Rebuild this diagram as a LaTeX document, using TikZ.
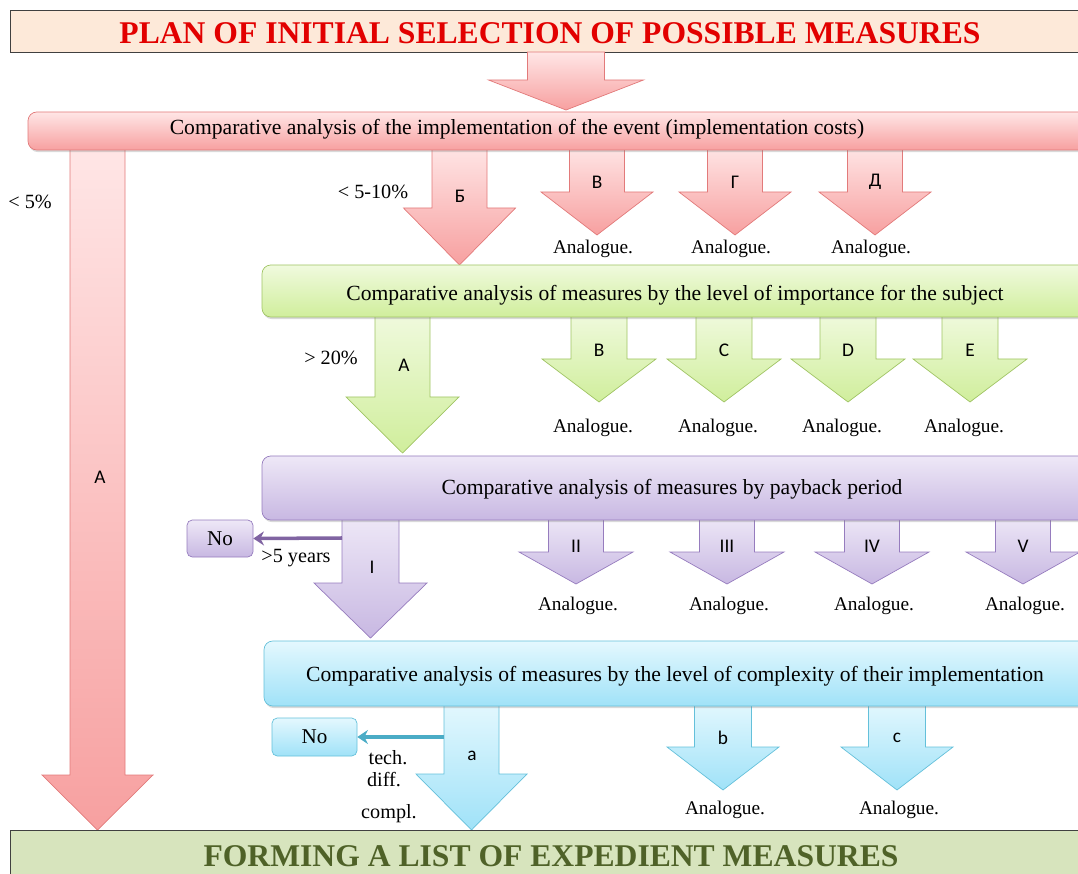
\documentclass[tikz,border=0pt]{standalone}
\usepackage{fontspec}
\setmainfont{Liberation Serif}
\newfontfamily\lblfont{Carlito}
\definecolor{titlefill}{RGB}{253,233,217}
\definecolor{titlered}{RGB}{226,0,0}
\definecolor{listfill}{RGB}{215,228,189}
\definecolor{listtext}{RGB}{79,98,40}
\definecolor{redtop}{RGB}{255,230,230}
\definecolor{redbot}{RGB}{247,160,160}
\definecolor{redline}{RGB}{226,122,122}
\definecolor{greentop}{RGB}{240,250,222}
\definecolor{greenbot}{RGB}{208,238,156}
\definecolor{greenline}{RGB}{160,196,100}
\definecolor{purptop}{RGB}{238,232,247}
\definecolor{purpbot}{RGB}{200,184,226}
\definecolor{purpline}{RGB}{150,124,190}
\definecolor{purparrow}{RGB}{128,100,162}
\definecolor{bluetop}{RGB}{228,248,254}
\definecolor{bluebot}{RGB}{160,226,248}
\definecolor{blueline}{RGB}{100,192,218}
\definecolor{bluearrow}{RGB}{75,172,198}
\usetikzlibrary{arrows.meta,fit,shadows}
% block arrow: style, x, top, head start, tip, half shaft, half head
\newcommand{\blockarrow}[7]{%
  \path[#1] ({#2-#6},#3) -- ({#2+#6},#3) -- ({#2+#6},#4) -- ({#2+#7},#4)
    -- (#2,#5) -- ({#2-#7},#4) -- ({#2-#6},#4) -- cycle;}

\begin{document}
\begin{tikzpicture}[x=0.02cm,y=-0.02cm,
  stagebox/.style={rounded corners=5pt,inner sep=0pt,
    drop shadow={shadow xshift=0.6pt,shadow yshift=-1.2pt,opacity=0.3}},
  nobox/.style={rounded corners=3pt,inner sep=0pt,font=\fontsize{12}{14}\selectfont},
  redfill/.style={top color=redtop,bottom color=redbot,draw=redline},
  greenfill/.style={top color=greentop,bottom color=greenbot,draw=greenline},
  purpfill/.style={top color=purptop,bottom color=purpbot,draw=purpline},
  bluefill/.style={top color=bluetop,bottom color=bluebot,draw=blueline},
  boxtext/.style={font=\fontsize{12.3}{14}\selectfont},
  albl/.style={font=\lblfont\fontsize{11}{12}\selectfont},
  ana/.style={font=\fontsize{11}{13}\selectfont},
  cond/.style={font=\fontsize{11.5}{13}\selectfont,align=center},
  noarr/.style={line width=2pt,-{Stealth[length=6pt,width=8pt]}}
]
  \useasboundingbox (0,0) rectangle (1078,874);
  \clip (0,0) rectangle (1078,874);

  % Title
  \node[draw=black!75,fill=titlefill,inner sep=0pt,fit={(10,10) (1100,52)}] (plan) {};
  \node[font=\bfseries\fontsize{18}{21}\selectfont,text=titlered] (plantxt) at (550,33)
    {PLAN OF INITIAL SELECTION OF POSSIBLE MEASURES};
  \blockarrow{redfill}{566}{52}{80}{110}{38.5}{77.5}

  % Level 1: implementation costs
  \blockarrow{redfill}{97.5}{145}{775}{830}{27.5}{55.5}
  \node[albl] (lA) at (100,477) {A};
  \node[cond] (lt5) at (30,202) {< 5\%};
  \blockarrow{redfill}{459.5}{145}{208}{265}{27.5}{56}
  \node[albl] (lB6) at (460,196) {Б};
  \node[cond] (lt510) at (373,192) {< 5-10\%};
  \foreach \x/\l/\n in {597/В/v,735/Г/g,875/Д/d}{
    \blockarrow{redfill}{\x}{145}{192}{235}{27.5}{56}
    \node[albl] (r\n) at (\x,182) {\l};
    \node[ana] (ra\n) at (\x-4,249) {Analogue.};
  }
  \node[stagebox,redfill,fit={(28,112) (1100,150)}] (costs) {};
  \node[boxtext] (coststxt) at (517,129)
    {Comparative analysis of the implementation of the event (implementation costs)};

  % Level 2: importance
  \blockarrow{greenfill}{402.5}{312}{397}{453}{27.5}{56.5}
  \node[albl] (gA) at (404,365) {A};
  \node[cond] (gt20) at (331,358) {> 20\%};
  \foreach \x/\l in {599/B,724/C,848/D,970/E}{
    \blockarrow{greenfill}{\x}{312}{359}{402}{28}{57}
    \node[albl] (g\l) at (\x,350) {\l};
    \node[ana] (ga\l) at (\x-6,428) {Analogue.};
  }
  \node[stagebox,greenfill,fit={(262,265) (1100,317)}] (importance) {};
  \node[boxtext] (importancetxt) at (675,295)
    {Comparative analysis of measures by the level of importance for the subject};

  % Level 3: payback period
  \blockarrow{purpfill}{370.5}{515}{583}{638}{28.5}{56.5}
  \node[albl] (pI) at (372,567) {I};
  \foreach \x/\l in {576/II,727/III,872/IV,1023/V}{
    \blockarrow{purpfill}{\x}{515}{552}{584}{27.5}{57}
    \node[albl] (p\l) at (\x,546) {\l};
    \node[ana] (pa\l) at (\x+2,606) {Analogue.};
  }
  \node[stagebox,purpfill,fit={(262,456) (1100,520)}] (payback) {};
  \node[boxtext] (paybacktxt) at (672,489)
    {Comparative analysis of measures by payback period};
  \node[nobox,purpfill,fit={(187,520) (253,557)}] (nop) {};
  \node[nobox] at (nop.center) {No};
  \coordinate (pshaft) at (342,538);
  \draw[noarr,purparrow] (pshaft) -- (nop.east);
  \node[cond] (gt5) at (296,558) {>5 years};

  % Level 4: complexity
  \blockarrow{bluefill}{471.5}{701}{774}{830}{27.5}{55.5}
  \node[albl] (ba) at (472,756) {a};
  \foreach \x/\l in {723/b,897/c}{
    \blockarrow{bluefill}{\x}{701}{747}{790}{28.5}{56}
    \node[albl] (b\l) at (\x,738) {\l};
    \node[ana] (ba\l) at (\x+2,810) {Analogue.};
  }
  \node[stagebox,bluefill,fit={(264,641) (1100,706)}] (complexity) {};
  \node[boxtext] (complexitytxt) at (675,676)
    {Comparative analysis of measures by the level of complexity of their implementation};
  \node[nobox,bluefill,fit={(272,718) (357,756)}] (nob) {};
  \node[nobox] at (nob.center) {No};
  \coordinate (bshaft) at (444,737);
  \draw[noarr,bluearrow] (bshaft) -- (nob.east);
  \node[cond] (tech) at (388,758) {tech.};
  \node[cond] (diff) at (384,780) {diff.};
  \node[cond] (compl) at (389,814) {compl.};

  % Result
  \node[draw=black!75,fill=listfill,inner sep=0pt,fit={(10,830) (1100,890)}] (list) {};
  \node[font=\bfseries\fontsize{18}{21}\selectfont,text=listtext] (listtxt) at (551,856)
    {FORMING A LIST OF EXPEDIENT MEASURES};
\end{tikzpicture}
\end{document}
